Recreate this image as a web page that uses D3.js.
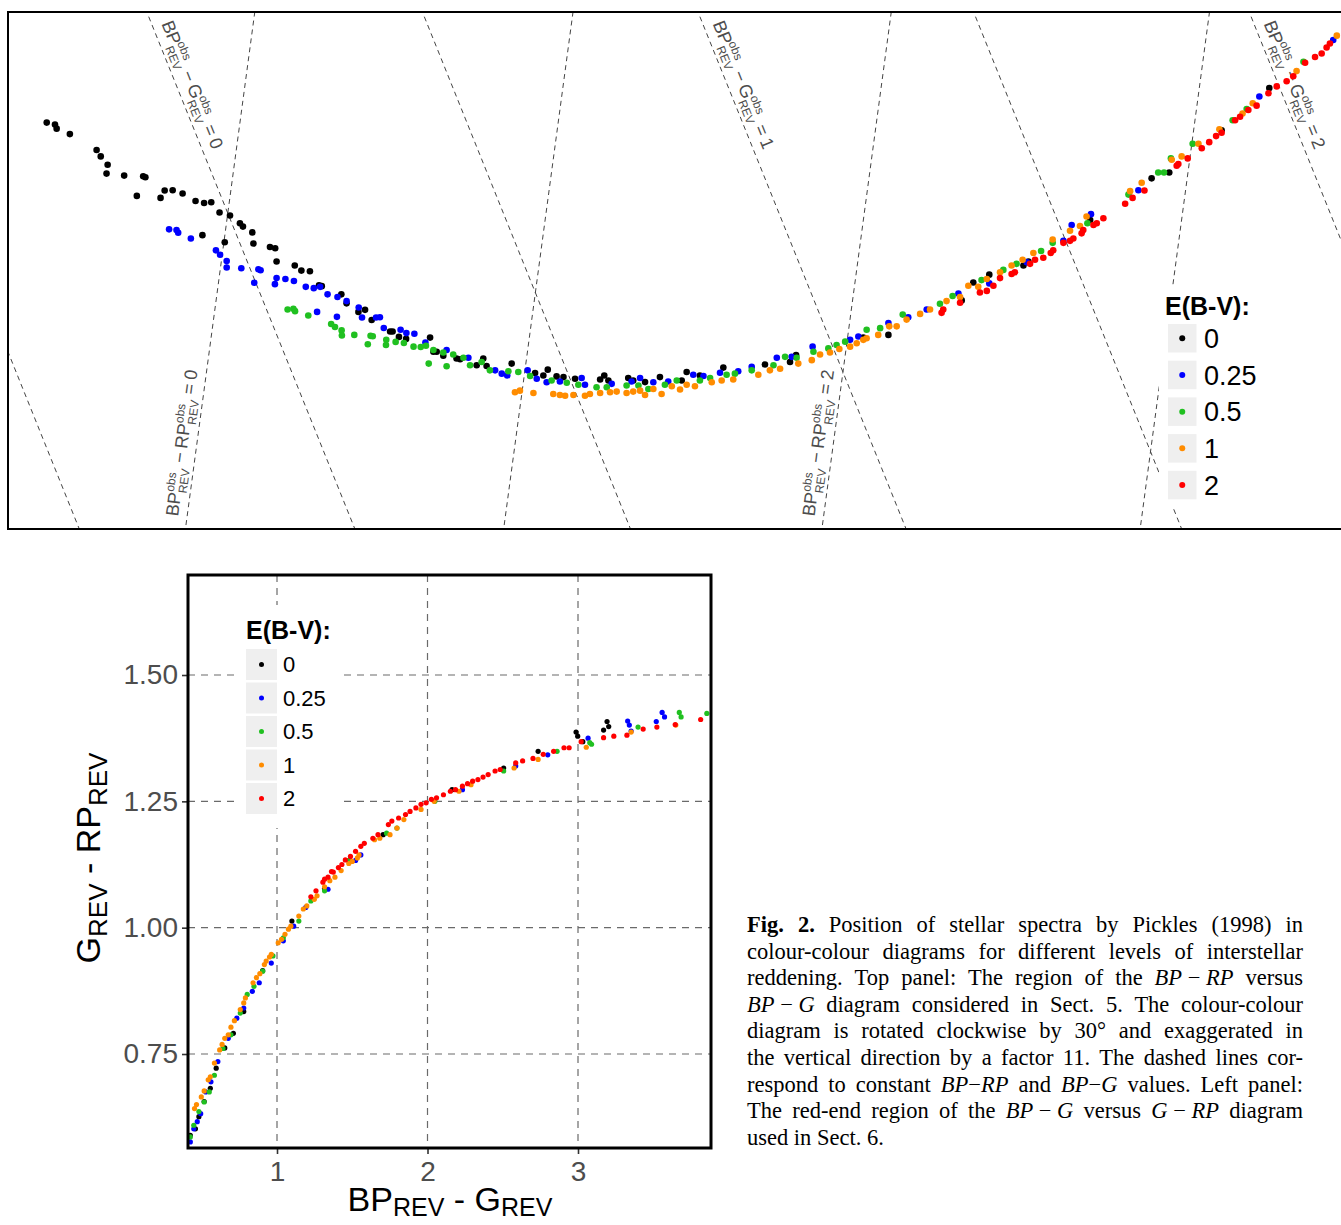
<!DOCTYPE html>
<html><head><meta charset="utf-8">
<script src="https://cdn.jsdelivr.net/npm/d3@7"></script>
<style>body{margin:0;background:#fff}svg{display:block}</style>
</head><body>
<svg id="fig" width="1341" height="1225"></svg>
<script>
// ---------------- DATA ----------------
const ebvLevels = ["0", "0.25", "0.5", "1", "2"];
const ebvColors = ["#000000", "#0000ff", "#20c020", "#ff8c00", "#ff0000"];

// Top panel: BP-RP vs BP-G diagram rotated clockwise by 30 deg.
// Each point: [rotated x, rotated y] in magnitudes.
const topE0 = [[-0.657,0.0764],[-0.627,0.0747],[-0.621,0.0713],[-0.573,0.0667],[-0.476,0.0533],[-0.461,0.0479],[-0.436,0.0408],[-0.440,0.0334],[-0.376,0.0317],[-0.307,0.0311],[-0.299,0.0303],[-0.330,0.0146],[-0.244,0.0129],[-0.229,0.0191],[-0.200,0.0194],[-0.164,0.0166],[-0.117,0.0103],[-0.086,0.0086],[-0.060,0.0092],[-0.030,0.0006],[0.008,-0.0019],[-0.092,-0.0185],[-0.011,-0.0245],[0.044,-0.0085],[0.055,-0.0113],[0.089,-0.0162],[0.093,-0.0256],[0.153,-0.0285],[0.172,-0.0296],[0.177,-0.0407],[0.243,-0.0441],[0.267,-0.0484],[0.298,-0.0490],[0.331,-0.0607],[0.341,-0.0615],[0.412,-0.0684],[0.431,-0.0760],[0.474,-0.0832],[0.498,-0.0815],[0.522,-0.0900],[0.589,-0.0997],[0.598,-0.0997],[0.621,-0.1043],[0.647,-0.1060],[0.734,-0.1049],[0.746,-0.1168],[0.758,-0.1168],[0.782,-0.1202],[0.830,-0.1225],[0.843,-0.1231],[0.903,-0.1282],[0.927,-0.1225],[0.939,-0.1288],[1.030,-0.1268],[1.115,-0.1348],[1.145,-0.1368],[1.161,-0.1319],[1.193,-0.1376],[1.218,-0.1382],[1.260,-0.1396],[1.351,-0.1402],[1.366,-0.1368],[1.381,-0.1410],[1.453,-0.1390],[1.471,-0.1410],[1.514,-0.1424],[1.568,-0.1382],[1.647,-0.1410],[1.665,-0.1339],[1.713,-0.1368],[1.798,-0.1302],[1.949,-0.1276],[2.040,-0.1254],[2.062,-0.1197],[2.306,-0.1048],[2.397,-0.1026],[2.663,-0.0735],[2.705,-0.0584],[2.763,-0.0518],[2.887,-0.0441],[2.905,-0.0407],[3.129,-0.0057],[3.352,0.0294],[3.416,0.0343],[3.606,0.0699],[3.779,0.1055]];
const topE025 = [[-0.213,-0.0136],[-0.186,-0.0142],[-0.180,-0.0165],[-0.134,-0.0213],[-0.043,-0.0313],[-0.028,-0.0350],[-0.004,-0.0404],[-0.004,-0.0458],[0.049,-0.0464],[0.111,-0.0473],[0.119,-0.0481],[0.096,-0.0587],[0.171,-0.0598],[0.177,-0.0547],[0.209,-0.0555],[0.240,-0.0572],[0.283,-0.0621],[0.312,-0.0632],[0.335,-0.0621],[0.362,-0.0684],[0.398,-0.0706],[0.431,-0.0741],[0.324,-0.0832],[0.396,-0.0874],[0.475,-0.0795],[0.487,-0.0880],[0.538,-0.0880],[0.552,-0.0877],[0.566,-0.0968],[0.627,-0.0983],[0.648,-0.1011],[0.677,-0.1017],[0.717,-0.1091],[0.794,-0.1154],[0.873,-0.1219],[0.970,-0.1325],[0.994,-0.1353],[1.014,-0.1368],[1.088,-0.1325],[1.121,-0.1396],[1.157,-0.1425],[1.205,-0.1419],[1.284,-0.1390],[1.296,-0.1447],[1.393,-0.1439],[1.465,-0.1419],[1.496,-0.1390],[1.544,-0.1425],[1.598,-0.1419],[1.689,-0.1362],[1.726,-0.1373],[1.786,-0.1345],[1.852,-0.1333],[1.901,-0.1296],[1.992,-0.1219],[2.046,-0.1211],[2.122,-0.1125],[2.258,-0.1068],[2.288,-0.1040],[2.397,-0.0926],[2.469,-0.0877],[2.536,-0.0812],[2.651,-0.0678],[2.763,-0.0592],[2.899,-0.0413],[3.032,-0.0233],[3.062,-0.0099],[3.132,-0.0008],[3.304,0.0194],[3.743,0.0984],[4.011,0.1460]];
const topE05 = [[0.217,-0.0812],[0.238,-0.0806],[0.244,-0.0826],[0.292,-0.0863],[0.375,-0.0934],[0.389,-0.0960],[0.413,-0.0988],[0.414,-0.1031],[0.459,-0.1026],[0.518,-0.1034],[0.526,-0.1037],[0.508,-0.1105],[0.575,-0.1068],[0.574,-0.1111],[0.609,-0.1085],[0.639,-0.1094],[0.674,-0.1125],[0.700,-0.1128],[0.719,-0.1117],[0.729,-0.1268],[0.746,-0.1154],[0.782,-0.1174],[0.794,-0.1291],[0.818,-0.1191],[0.855,-0.1219],[0.879,-0.1282],[0.921,-0.1254],[0.951,-0.1325],[1.018,-0.1333],[1.054,-0.1339],[1.097,-0.1373],[1.175,-0.1410],[1.230,-0.1430],[1.272,-0.1447],[1.338,-0.1467],[1.375,-0.1467],[1.447,-0.1453],[1.490,-0.1453],[1.526,-0.1482],[1.586,-0.1447],[1.629,-0.1410],[1.713,-0.1410],[1.750,-0.1390],[1.810,-0.1362],[1.840,-0.1353],[1.901,-0.1325],[1.980,-0.1282],[2.022,-0.1211],[2.064,-0.1219],[2.125,-0.1168],[2.179,-0.1140],[2.209,-0.1111],[2.240,-0.1083],[2.318,-0.0983],[2.367,-0.0969],[2.449,-0.0855],[2.584,-0.0763],[2.630,-0.0698],[2.735,-0.0564],[2.814,-0.0478],[2.862,-0.0427],[2.951,-0.0319],[2.993,-0.0250],[3.119,-0.0085],[3.268,0.0157],[3.376,0.0343],[3.397,0.0343],[3.422,0.0462],[3.501,0.0585],[3.646,0.0784],[3.697,0.0878],[3.903,0.1277]];
const topE1 = [[1.042,-0.1510],[1.060,-0.1496],[1.109,-0.1516],[1.181,-0.1524],[1.205,-0.1533],[1.224,-0.1539],[1.254,-0.1533],[1.296,-0.1539],[1.314,-0.1524],[1.351,-0.1516],[1.387,-0.1510],[1.411,-0.1504],[1.447,-0.1516],[1.471,-0.1504],[1.496,-0.1496],[1.514,-0.1533],[1.544,-0.1482],[1.574,-0.1524],[1.611,-0.1459],[1.641,-0.1487],[1.665,-0.1447],[1.695,-0.1459],[1.756,-0.1425],[1.792,-0.1410],[1.834,-0.1402],[1.925,-0.1362],[1.967,-0.1325],[2.004,-0.1311],[2.070,-0.1268],[2.119,-0.1239],[2.149,-0.1191],[2.185,-0.1174],[2.219,-0.1145],[2.258,-0.1125],[2.282,-0.1097],[2.318,-0.1054],[2.306,-0.1068],[2.360,-0.1026],[2.400,-0.0954],[2.427,-0.0954],[2.463,-0.0897],[2.512,-0.0849],[2.548,-0.0812],[2.608,-0.0741],[2.657,-0.0706],[2.687,-0.0612],[2.723,-0.0621],[2.754,-0.0555],[2.802,-0.0498],[2.844,-0.0441],[2.884,-0.0393],[2.923,-0.0336],[2.993,-0.0222],[3.056,-0.0148],[3.092,-0.0108],[3.116,-0.0028],[3.274,0.0186],[3.316,0.0257],[3.425,0.0451],[3.461,0.0479],[3.522,0.0585],[3.598,0.0707],[3.682,0.0841],[3.719,0.0927],[3.878,0.1198],[4.024,0.1497]];
const topE2 = [[2.590,-0.0840],[2.596,-0.0812],[2.657,-0.0755],[2.729,-0.0669],[2.754,-0.0655],[2.778,-0.0612],[2.802,-0.0547],[2.844,-0.0513],[2.856,-0.0498],[2.911,-0.0427],[2.929,-0.0393],[2.959,-0.0376],[2.986,-0.0336],[2.995,-0.0313],[3.032,-0.0250],[3.056,-0.0233],[3.068,-0.0213],[3.098,-0.0170],[3.104,-0.0142],[3.141,-0.0099],[3.153,-0.0085],[3.177,-0.0042],[3.256,0.0080],[3.283,0.0129],[3.326,0.0191],[3.443,0.0400],[3.449,0.0414],[3.483,0.0462],[3.534,0.0548],[3.561,0.0599],[3.586,0.0650],[3.606,0.0679],[3.655,0.0784],[3.673,0.0813],[3.703,0.0870],[3.733,0.0907],[3.776,0.1012],[3.806,0.1069],[3.842,0.1112],[3.866,0.1155],[3.909,0.1269],[3.945,0.1317],[3.969,0.1346],[3.987,0.1397],[3.999,0.1431]];

// Constant-colour dashed lines of the top panel
const topBPGLines = [-0.5, 0, 0.5, 1, 1.5, 2];
const topBPRPLines = [0, 1, 2, 3];
const topBPGLabelled = [0, 1, 2];
const topBPRPLabelled = [0, 2];

// Left panel: [BP_REV - G_REV, G_REV - RP_REV]
const botE0 = [[0.424,0.589],[0.458,0.602],[0.481,0.626],[0.516,0.656],[0.557,0.682],[0.596,0.722],[0.653,0.762],[0.710,0.791],[0.779,0.834],[0.905,0.915],[1.099,1.013],[1.316,1.078],[1.705,1.184],[2.163,1.273],[2.506,1.316],[2.735,1.349],[2.987,1.387],[2.998,1.379],[3.032,1.368],[3.170,1.391],[3.193,1.408],[3.204,1.398]];
const botE025 = [[0.424,0.576],[0.447,0.602],[0.470,0.616],[0.493,0.632],[0.527,0.675],[0.561,0.695],[0.607,0.735],[0.676,0.781],[0.733,0.821],[0.779,0.841],[0.836,0.874],[0.882,0.891],[0.962,0.930],[1.042,0.974],[1.111,1.003],[1.191,1.040],[1.339,1.076],[1.522,1.133],[1.557,1.144],[2.232,1.273],[2.586,1.320],[2.799,1.342],[3.067,1.375],[3.330,1.409],[3.341,1.401],[3.353,1.389],[3.520,1.408],[3.559,1.426],[3.575,1.417]];
const botE05 = [[0.424,0.586],[0.447,0.609],[0.481,0.636],[0.516,0.655],[0.550,0.675],[0.584,0.708],[0.641,0.761],[0.694,0.788],[0.756,0.831],[0.802,0.868],[0.847,0.884],[0.905,0.914],[0.973,0.944],[1.042,0.980],[1.145,1.013],[1.225,1.053],[1.316,1.073],[1.477,1.133],[1.728,1.187],[1.797,1.197],[2.049,1.250],[2.506,1.310],[2.861,1.349],[3.078,1.366],[3.090,1.363],[3.399,1.397],[3.673,1.426],[3.685,1.417],[3.856,1.424]];
const botE1 = [[0.452,0.642],[0.465,0.650],[0.497,0.665],[0.516,0.677],[0.543,0.699],[0.557,0.705],[0.584,0.732],[0.619,0.758],[0.635,0.769],[0.653,0.781],[0.676,0.788],[0.694,0.803],[0.717,0.816],[0.756,0.838],[0.779,0.851],[0.790,0.861],[0.841,0.891],[0.863,0.901],[0.886,0.909],[0.916,0.927],[0.928,0.934],[0.950,0.942],[0.962,0.947],[1.008,0.970],[1.030,0.977],[1.053,0.987],[1.076,0.997],[1.092,1.003],[1.145,1.023],[1.175,1.037],[1.198,1.043],[1.248,1.056],[1.266,1.063],[1.316,1.081],[1.351,1.093],[1.385,1.100],[1.426,1.113],[1.477,1.127],[1.500,1.131],[1.534,1.138],[1.545,1.144],[1.648,1.174],[1.683,1.177],[1.751,1.184],[1.797,1.197],[1.843,1.214],[1.957,1.234],[2.044,1.250],[2.209,1.270],[2.289,1.283],[2.575,1.316],[2.735,1.333],[3.055,1.357],[3.353,1.387],[3.650,1.401]];
const botE2 = [[1.225,1.061],[1.259,1.073],[1.305,1.090],[1.316,1.096],[1.339,1.100],[1.374,1.110],[1.408,1.119],[1.431,1.125],[1.362,1.111],[1.454,1.134],[1.488,1.141],[1.522,1.151],[1.557,1.161],[1.580,1.167],[1.637,1.177],[1.671,1.184],[1.740,1.204],[1.763,1.211],[1.808,1.217],[1.854,1.224],[1.884,1.230],[1.923,1.237],[1.957,1.244],[1.991,1.247],[2.026,1.254],[2.060,1.257],[2.106,1.263],[2.152,1.270],[2.186,1.273],[2.232,1.280],[2.266,1.285],[2.300,1.290],[2.335,1.293],[2.369,1.298],[2.403,1.303],[2.449,1.310],[2.483,1.313],[2.586,1.326],[2.632,1.330],[2.701,1.335],[2.769,1.343],[2.838,1.349],[2.907,1.356],[2.941,1.356],[3.021,1.368],[3.170,1.376],[3.238,1.379],[3.325,1.381],[3.433,1.393],[3.524,1.397],[3.646,1.402],[3.815,1.412]];

const botXTicks = [1, 2, 3];
const botYTicks = [0.75, 1.00, 1.25, 1.50];

const captionLines = [
  "**Fig.** **2.** Position of stellar spectra by Pickles (1998) in",
  "colour-colour diagrams for different levels of interstellar",
  "reddening. Top panel: The region of the *BP*~\u2212~*RP* versus",
  "*BP*~\u2212~*G* diagram considered in Sect. 5. The colour-colour",
  "diagram is rotated clockwise by 30\u00b0 and exaggerated in",
  "the vertical direction by a factor 11. The dashed lines cor-",
  "respond to constant *BP*\u2212*RP* and *BP*\u2212*G* values. Left panel:",
  "The red-end region of the *BP*~\u2212~*G* versus *G*~\u2212~*RP* diagram",
  "used in Sect. 6."
];

// ---------------- DRAWING ----------------
const SANS = "'Liberation Sans', Arial, Helvetica, sans-serif";
const SERIF = "'Liberation Serif', 'Times New Roman', Times, serif";
const svg = d3.select("#fig");
const defs = svg.append("defs");

// ===== TOP PANEL =====
const C30 = Math.cos(Math.PI / 6);
const rot = (g, r) => [0.5 * g + C30 * r, C30 * g - 0.5 * r];  // (BP-G, BP-RP) -> rotated frame
const topX = d3.scaleLinear().domain([-0.7975, 4.0392]).range([8, 1341]);
const topY = d3.scaleLinear().domain([0.16965, -0.26627]).range([12, 529]);

defs.append("clipPath").attr("id", "clipTop").append("rect")
  .attr("x", 8).attr("y", 12).attr("width", 1333).attr("height", 517);
const topG = svg.append("g").attr("clip-path", "url(#clipTop)");
const lineGen = d3.line().x(d => topX(d[0])).y(d => topY(d[1]));

topBPGLines.forEach(g => {
  const rc = 2 * C30 * g;
  topG.append("path").datum([rot(g, rc - 1.5), rot(g, rc + 1.5)]).attr("d", lineGen)
    .attr("fill", "none").attr("stroke", "#444").attr("stroke-width", 1).attr("stroke-dasharray", "5,4");
});
topBPRPLines.forEach(r => {
  topG.append("path").datum([rot((0.5 * r - 1) / C30, r), rot((0.5 * r + 1) / C30, r)]).attr("d", lineGen)
    .attr("fill", "none").attr("stroke", "#444").attr("stroke-width", 1).attr("stroke-dasharray", "5,4");
});

function onGLine(g, py) { const w = topY.invert(py); const r = (C30 * g - w) / 0.5; return [topX(rot(g, r)[0]), py]; }
function onRLine(r, py) { const w = topY.invert(py); const g = (w + 0.5 * r) / C30; return [topX(rot(g, r)[0]), py]; }

function mathLabel(parent, p0, p1, second, val) {
  const ang = Math.atan2(p1[1] - p0[1], p1[0] - p0[0]);
  const off = 9;
  const x = p0[0] + off * Math.sin(ang), y = p0[1] - off * Math.cos(ang);
  const g = parent.append("g").attr("transform", `translate(${x},${y}) rotate(${ang * 180 / Math.PI})`)
    .attr("font-family", SANS).attr("fill", "#4d4d4d");
  let cx = 0;
  const put = (txt, size, dy) => g.append("text").attr("x", cx).attr("y", dy).attr("font-size", size).text(txt).node().getComputedTextLength();
  const stacked = () => { const a = put("obs", 12, -7.5); const b = put("REV", 12, 5.5); cx += Math.max(a, b) + 1; };
  cx += put("BP", 18, 0); stacked();
  cx += 4; cx += put("\u2212", 18, 0); cx += 4;
  cx += put(second, 18, 0); stacked();
  cx += 4; cx += put("=", 18, 0); cx += 4;
  put(val, 18, 0);
}
topBPGLabelled.forEach(g => mathLabel(topG, onGLine(g, 27), onGLine(g, 127), "G", String(g)));
topBPRPLabelled.forEach(r => mathLabel(topG, onRLine(r, 518), onRLine(r, 418), "RP", String(r)));

[topE0, topE025, topE05, topE1, topE2].forEach((s, i) => {
  topG.append("g").selectAll("circle").data(s).join("circle")
    .attr("cx", d => topX(d[0])).attr("cy", d => topY(d[1])).attr("r", 3.3).attr("fill", ebvColors[i]);
});

function legend(parent, o) {
  const g = parent.append("g").attr("font-family", SANS);
  g.append("rect").attr("x", o.bx).attr("y", o.by).attr("width", o.bw).attr("height", o.bh).attr("fill", "#fff");
  g.append("text").attr("x", o.tx).attr("y", o.ty).attr("font-size", 25).attr("font-weight", "bold").attr("fill", "#000").text("E(B-V):");
  ebvLevels.forEach((lv, i) => {
    const ky = o.ky + i * o.step;
    g.append("rect").attr("x", o.kx).attr("y", ky).attr("width", o.ks).attr("height", o.ks).attr("fill", "#efefef");
    g.append("circle").attr("cx", o.kx + o.ks / 2).attr("cy", ky + o.ks / 2).attr("r", o.dr).attr("fill", ebvColors[i]);
    g.append("text").attr("x", o.lx).attr("y", ky + o.ks / 2).attr("dy", "0.36em").attr("font-size", o.lf).attr("fill", "#000").text(lv);
  });
}
legend(svg, { bx: 1159, by: 287, bw: 110, bh: 219, tx: 1165, ty: 315, kx: 1168, ky: 324, ks: 28.5, step: 36.7, dr: 3, lx: 1204, lf: 27 });

svg.append("rect").attr("x", 8).attr("y", 12).attr("width", 1400).attr("height", 517)
  .attr("fill", "none").attr("stroke", "#000").attr("stroke-width", 2);

// ===== LEFT (BOTTOM) PANEL =====
const botX = d3.scaleLinear().domain([0.4086, 3.8837]).range([188, 711]);
const botY = d3.scaleLinear().domain([0.564, 1.6979]).range([1148, 575]);
const bot = svg.append("g");
defs.append("clipPath").attr("id", "clipBot").append("rect").attr("x", 188).attr("y", 575).attr("width", 523).attr("height", 573);
const botIn = bot.append("g").attr("clip-path", "url(#clipBot)");

botXTicks.forEach(v => botIn.append("line").attr("x1", botX(v)).attr("x2", botX(v)).attr("y1", 575).attr("y2", 1148)
  .attr("stroke", "#6a6a6a").attr("stroke-width", 1.2).attr("stroke-dasharray", "7,6"));
botYTicks.forEach(v => botIn.append("line").attr("x1", 188).attr("x2", 711).attr("y1", botY(v)).attr("y2", botY(v))
  .attr("stroke", "#6a6a6a").attr("stroke-width", 1.2).attr("stroke-dasharray", "7,6"));

[botE0, botE025, botE05, botE1, botE2].forEach((s, i) => {
  botIn.append("g").selectAll("circle").data(s).join("circle")
    .attr("cx", d => botX(d[0])).attr("cy", d => botY(d[1])).attr("r", 2.6).attr("fill", ebvColors[i]);
});

legend(bot, { bx: 236, by: 605, bw: 108, bh: 223, tx: 246, ty: 639, kx: 246, ky: 649, ks: 31, step: 33.5, dr: 2.5, lx: 283, lf: 22 });

const yAx = bot.append("g").attr("transform", "translate(188,0)")
  .call(d3.axisLeft(botY).tickValues(botYTicks).tickFormat(d3.format(".2f")).tickSize(6).tickPadding(4));
const xAx = bot.append("g").attr("transform", "translate(0,1148)")
  .call(d3.axisBottom(botX).tickValues(botXTicks).tickFormat(d3.format("d")).tickSize(6).tickPadding(7));
[yAx, xAx].forEach(a => {
  a.select(".domain").remove();
  a.selectAll(".tick line").attr("stroke", "#333").attr("stroke-width", 1.6);
  a.selectAll(".tick text").attr("font-family", SANS).attr("font-size", 28).attr("fill", "#4d4d4d");
});

bot.append("rect").attr("x", 188).attr("y", 575).attr("width", 523).attr("height", 573)
  .attr("fill", "none").attr("stroke", "#000").attr("stroke-width", 3);

// axis titles
const xt = bot.append("text").attr("x", 450).attr("y", 1211).attr("text-anchor", "middle")
  .attr("font-family", SANS).attr("font-size", 34).attr("fill", "#000");
xt.append("tspan").text("BP");
xt.append("tspan").attr("font-size", 25).attr("dy", 5).text("REV");
xt.append("tspan").attr("dy", -5).text("\u00a0-\u00a0G");
xt.append("tspan").attr("font-size", 25).attr("dy", 5).text("REV");

const yt = bot.append("text").attr("transform", "translate(100,858) rotate(-90)").attr("text-anchor", "middle")
  .attr("font-family", SANS).attr("font-size", 34).attr("fill", "#000");
yt.append("tspan").text("G");
yt.append("tspan").attr("font-size", 26).attr("dy", 7).text("REV");
yt.append("tspan").attr("dy", -7).text("\u00a0-\u00a0RP");
yt.append("tspan").attr("font-size", 26).attr("dy", 7).text("REV");

// ===== CAPTION =====
const cap = svg.append("g").attr("font-family", SERIF).attr("font-size", 22.5).attr("fill", "#000");
function parseRuns(word) {
  const out = [];
  const re = /(\*\*[^*]+\*\*|\*[^*]+\*|[^*]+)/g;
  let m;
  while ((m = re.exec(word)) !== null) {
    const s = m[0];
    if (s.startsWith("**")) out.push([s.slice(2, -2), "b"]);
    else if (s.startsWith("*")) out.push([s.slice(1, -1), "i"]);
    else out.push([s, "n"]);
  }
  return out;
}
captionLines.forEach((line, li) => {
  const y = 932 + li * 26.6;
  const words = line.split(" ");
  const nodes = words.map(wd => {
    const t = cap.append("text").attr("y", y);
    parseRuns(wd).forEach(([txt, st]) => {
      const ts = t.append("tspan").text(txt.replace(/~/g, "\u00a0"));
      if (st === "b") ts.attr("font-weight", "bold");
      if (st === "i") ts.attr("font-style", "italic");
    });
    return { t, w: t.node().getComputedTextLength() };
  });
  const total = d3.sum(nodes, d => d.w);
  const last = li === captionLines.length - 1;
  const gap = last ? 5.6 : Math.max(3, (556 - total) / (nodes.length - 1));
  let x = 747;
  nodes.forEach(n => { n.t.attr("x", x); x += n.w + gap; });
});
</script>
</body></html>
